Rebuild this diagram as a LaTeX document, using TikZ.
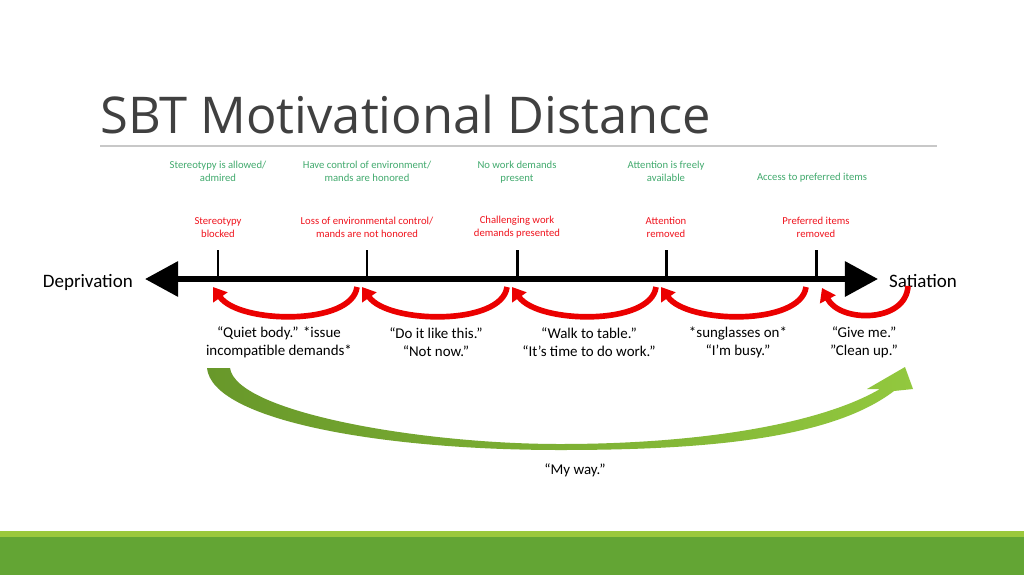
\documentclass[tikz,border=0pt]{standalone}
\usepackage{fontspec}
\setmainfont{Carlito}
\newfontfamily\titlefont{Open Sans}
\usepackage{tikz}
\usetikzlibrary{arrows.meta, positioning, calc}
\usepackage{xcolor}
\definecolor{titlegray}{RGB}{64,64,64}
\definecolor{rulegray}{RGB}{200,200,200}
\definecolor{textgreen}{RGB}{66,170,110}
\definecolor{textred}{RGB}{240,20,30}
\definecolor{arrowred}{RGB}{235,0,0}
\definecolor{leafdark}{RGB}{104,152,42}
\definecolor{leaflight}{RGB}{146,200,62}
\definecolor{banddark}{RGB}{99,165,52}
\definecolor{bandlight}{RGB}{155,200,60}
\tikzset{
    main axis/.style={{Triangle[length=31pt, width=32pt]}-{Triangle[length=31pt, width=32pt]}, line width=5.6pt},
    graduation/.style={line width=2.8pt},
    back arrow/.style={-{Triangle[length=12pt, width=16pt]}, line width=5.3pt, arrowred},
    green label/.style={textgreen, font=\fontsize{10}{12.3}\selectfont, align=center},
    red label/.style={textred, font=\fontsize{10}{12.3}\selectfont, align=center},
    quote text/.style={font=\fontsize{14}{17}\selectfont, align=center},
    end label/.style={font=\fontsize{17.8}{21}\selectfont, inner sep=0pt},
}
\begin{document}
\begin{tikzpicture}[x=0.9375pt, y=-0.9375pt]
\useasboundingbox (0,0) rectangle (1024,575);
\fill[white] (0,0) rectangle (1024,575);
% title
\node[anchor=base west, inner sep=0pt, font=\titlefont\fontsize{47.5}{54}\selectfont, titlegray] (title) at (100,133) {SBT Motivational Distance};
\draw[rulegray, line width=1.9pt] (100,146) -- (937,146);

% axis
\coordinate (left tip) at (145,279);
\coordinate (right tip) at (878,279);
\draw[main axis] (left tip) -- (right tip);
\node[end label, anchor=base east] (dep) at (133,287) {Deprivation};
\node[end label, anchor=base west] (sat) at (889,287) {Satiation};
\foreach \i/\x in {1/218,2/367,3/517,4/666,5/816}
  \draw[graduation] (\x,250) -- (\x,280) coordinate (t\i);

% what is there / what is taken
\node[green label] (g1) at (218,171.5) {Stereotypy is allowed/\\admired};
\node[green label] (g2) at (367,171.5) {Have control of environment/\\mands are honored};
\node[green label] (g3) at (517,172.5) {No work demands\\present};
\node[green label] (g4) at (666,171.5) {Attention is freely\\available};
\node[green label] (g5) at (812,178) {Access to preferred items};
\node[red label] (r1) at (218,227.5) {Stereotypy\\blocked};
\node[red label] (r2) at (367,227.5) {Loss of environmental control/\\mands are not honored};
\node[red label] (r3) at (517,227.5) {Challenging work\\demands presented};
\node[red label] (r4) at (666,227.5) {Attention\\removed};
\node[red label] (r5) at (816,227.5) {Preferred items\\removed};

% steps back
\foreach \i/\j in {1/2,2/3,3/4,4/5}
  \draw[back arrow] ($(t\j)+(-10,7)$) .. controls +(-5,39) and +(26,37) .. ($(t\i)+(-5,7)$);
\draw[back arrow] ($(sat.base west)+(19,-1)$) .. controls +(-2,37) and +(18,35) .. ($(t5)+(6,8)$);

\node[quote text] (q1) at (279,342) {“Quiet body.” *issue\\incompatible demands*};
\node[quote text] (q2) at (436,342) {“Do it like this.”\\“Not now.”};
\node[quote text] (q3) at (589,342) {“Walk to table.”\\“It’s time to do work.”};
\node[quote text] (q4) at (738,342) {*sunglasses on*\\“I’m busy.”};
\node[quote text] (q5) at (864,342) {“Give me.”\\”Clean up.”};

% big jump
\shade[left color=leafdark, right color=leaflight]
  (207,368) -- (230,368)
  .. controls (236,412) and (420,444) .. (560,444)
  .. controls (700,444) and (820,424) .. (880,389)
  -- (867,389) -- (905,367) -- (913,389) -- (894,391)
  .. controls (830,440) and (700,450) .. (560,450)
  .. controls (380,450) and (212,420) .. (207,368) -- cycle;
\node[quote text] (way) at (575,470) {“My way.”};

% band
\fill[bandlight] (0,531) rectangle (1024,537);
\fill[banddark] (0,537) rectangle (1024,575);
\end{tikzpicture}
\end{document}
